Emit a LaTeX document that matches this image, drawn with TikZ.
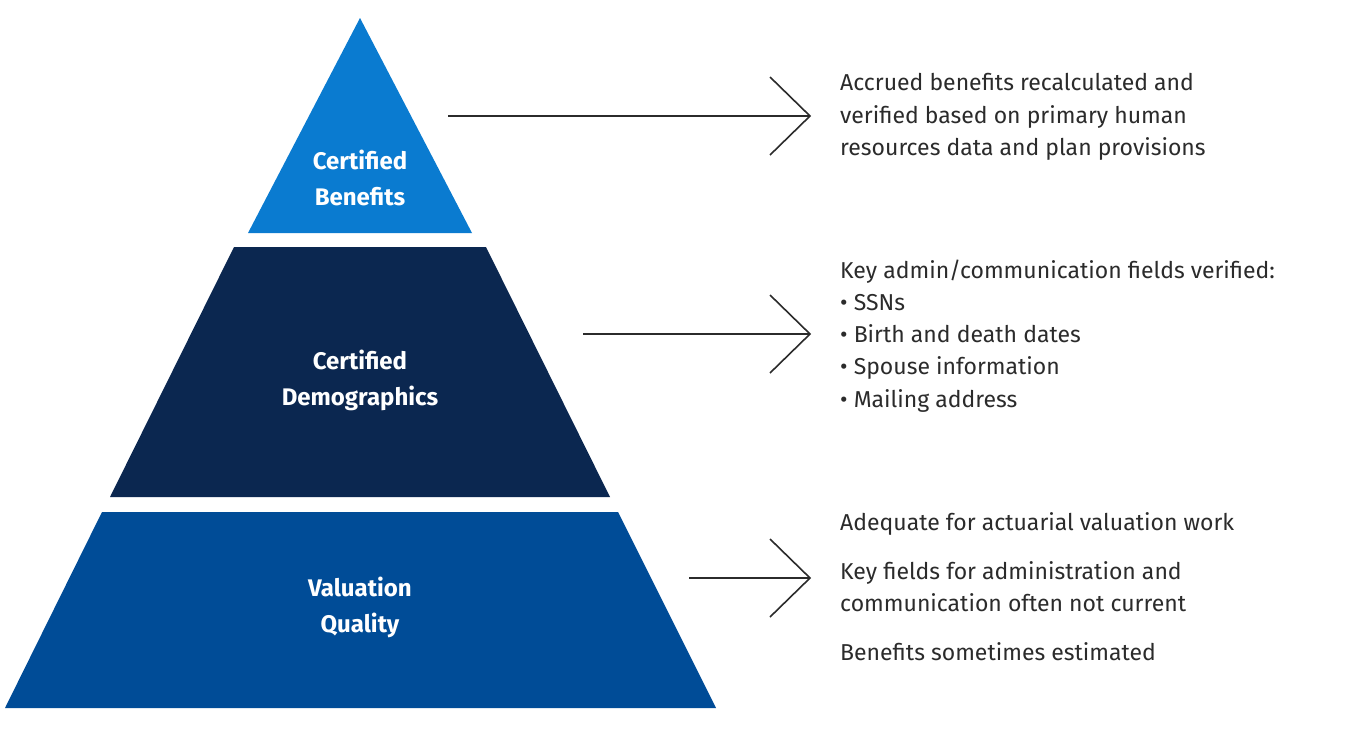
\documentclass[tikz,border=0pt]{standalone}
\usepackage{fontspec}
\setmainfont{Fira Sans}
\begin{document}
\begin{tikzpicture}[x=1pt,y=-1pt,
  tx/.style={anchor=base west,inner sep=0pt,font=\fontsize{23}{28}\selectfont\color{txt}},
  lbl/.style={align=center,font=\fontsize{24}{36}\selectfont\bfseries\color{white}},
  ln/.style={line width=1.6pt,draw=txt}]
\definecolor{txt}{HTML}{2B2B2B}
\definecolor{c1}{HTML}{0A7BD0}
\definecolor{c2}{HTML}{0B2750}
\definecolor{c3}{HTML}{004C97}
\useasboundingbox[fill=white] (0,0) rectangle (1366,729);
% pyramid: apex (360,18), slope 0.515
\fill[c1] (360,18) -- (472,233) -- (248,233) -- cycle;
\fill[c2] (234,247) -- (486,247) -- (610,497) -- (110,497) -- cycle;
\fill[c3] (102,512) -- (618,512) -- (716,708) -- (5,708) -- cycle;
\node[lbl] (l1) at (360,178) {Certified\\Benefits};
\node[lbl] (l2) at (360,380) {Certified\\Demographics};
\node[lbl] (l3) at (360,607) {Valuation\\Quality};
% arrows
\coordinate (a1s) at (448,116); \coordinate (a1e) at (810,116);
\draw[ln] (a1s) -- (a1e); \draw[ln,line join=miter] (770,77) -- (a1e) -- (770,155);
\coordinate (a2s) at (583,334); \coordinate (a2e) at (810,334);
\draw[ln] (a2s) -- (a2e); \draw[ln,line join=miter] (770,295) -- (a2e) -- (770,373);
\coordinate (a3s) at (689,578); \coordinate (a3e) at (810,578);
\draw[ln] (a3s) -- (a3e); \draw[ln,line join=miter] (770,539) -- (a3e) -- (770,617);
% texts
\node[tx] (t1) at (840,90) {Accrued benefits recalculated and};
\node[tx] (t2) at (840,123) {verified based on primary human};
\node[tx] (t3) at (840,155) {resources data and plan provisions};
\node[tx] (m1) at (840,278) {Key admin/communication fields verified:};
\node[tx] (m2) at (840,310) {\textbullet\ SSNs};
\node[tx] (m3) at (840,342) {\textbullet\ Birth and death dates};
\node[tx] (m4) at (840,374) {\textbullet\ Spouse information};
\node[tx] (m5) at (840,407) {\textbullet\ Mailing address};
\node[tx] (b1) at (840,530) {Adequate for actuarial valuation work};
\node[tx] (b2) at (840,579) {Key fields for administration and};
\node[tx] (b3) at (840,611) {communication often not current};
\node[tx] (b4) at (840,660) {Benefits sometimes estimated};
\end{tikzpicture}
\end{document}
